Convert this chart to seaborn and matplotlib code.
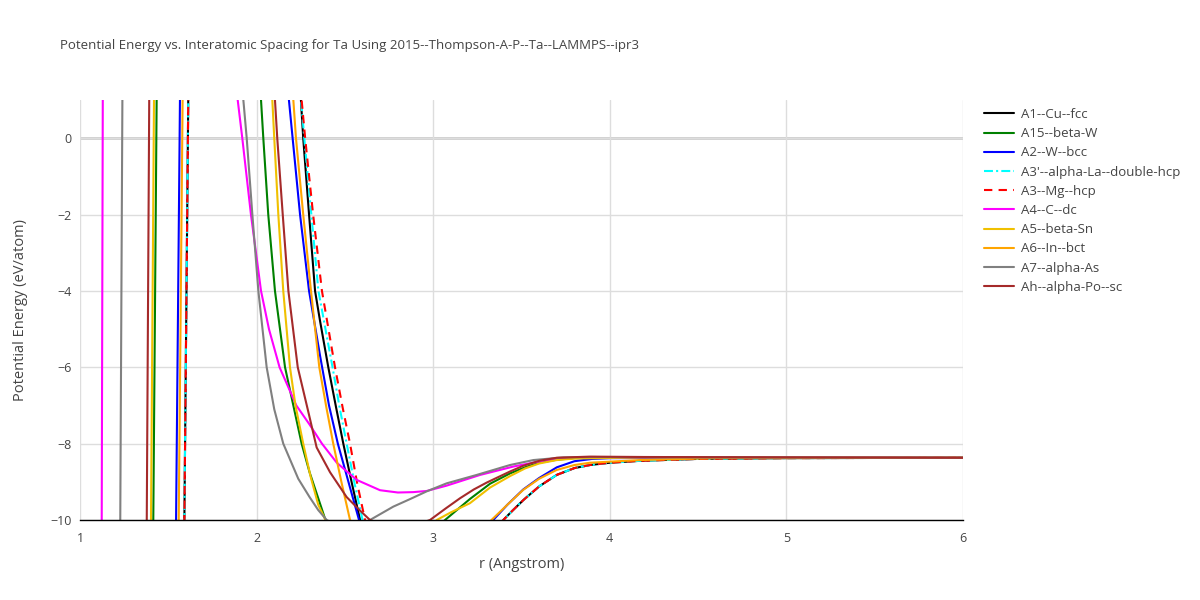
import numpy as np
import pandas as pd
import matplotlib
matplotlib.use("Agg")
import matplotlib.pyplot as plt
import seaborn as sns
from matplotlib.ticker import MultipleLocator, FuncFormatter

##############################################
### DATA ####
##############################################

title = "Potential Energy vs. Interatomic Spacing for Ta Using 2015--Thompson-A-P--Ta--LAMMPS--ipr3"

# A1--Cu--fcc
r_a1 = [1.580, 1.591, 1.613, 1.930, 2.251, 2.264, 2.297, 2.331, 2.359, 2.406, 2.450, 2.491, 2.540, 2.586, 3.000,
        3.397, 3.450, 3.510, 3.600, 3.699, 3.800, 3.888, 4.000, 4.171, 4.500, 5.000, 6.000]
e_a1 = [-12.0, -10.0, 1.0, 15.0, 1.0, 0.0, -2.0, -4.0, -4.78, -6.0, -7.05, -8.0, -9.05, -10.0, -12.0,
        -10.0, -9.75, -9.48, -9.12, -8.82, -8.64, -8.56, -8.50, -8.45, -8.40, -8.38, -8.37]

# A15--beta-W
r_a15 = [1.405, 1.415, 1.434, 1.730, 2.025, 2.038, 2.066, 2.104, 2.161, 2.208, 2.255, 2.300, 2.349, 2.390, 2.700,
         3.067, 3.208, 3.322, 3.435, 3.520, 3.600, 3.700, 3.800, 4.200, 6.000]
e_a15 = [-12.0, -10.0, 1.0, 15.0, 1.0, 0.0, -2.0, -4.0, -6.0, -7.0, -8.0, -8.75, -9.43, -10.0, -11.5,
         -10.0, -9.45, -9.05, -8.78, -8.62, -8.50, -8.42, -8.38, -8.36, -8.37]

# A2--W--bcc
r_a2 = [1.535, 1.544, 1.566, 1.880, 2.183, 2.204, 2.246, 2.297, 2.359, 2.410, 2.460, 2.520, 2.580, 2.950,
        3.340, 3.420, 3.510, 3.600, 3.700, 3.800, 3.900, 4.000, 4.500, 6.000]
e_a2 = [-12.0, -10.0, 1.0, 15.0, 1.0, 0.0, -2.0, -4.0, -5.69, -7.0, -8.0, -9.0, -10.0, -12.0,
        -10.0, -9.60, -9.20, -8.90, -8.62, -8.46, -8.40, -8.38, -8.37, -8.37]

# A3'--alpha-La--double-hcp
r_a3p = [1.580, 1.591, 1.613, 1.930, 2.252, 2.270, 2.310, 2.350, 2.430, 2.470, 2.510, 2.555, 2.600, 3.000,
         3.397, 3.450, 3.510, 3.600, 3.699, 3.800, 3.888, 4.000, 4.171, 4.500, 5.000, 6.000]
e_a3p = [-12.0, -10.0, 1.0, 15.0, 1.0, 0.0, -2.0, -4.0, -6.0, -7.05, -8.0, -9.05, -10.0, -12.0,
         -10.0, -9.75, -9.48, -9.12, -8.82, -8.64, -8.56, -8.50, -8.45, -8.40, -8.38, -8.37]

# A3--Mg--hcp
r_a3 = [1.580, 1.591, 1.613, 1.930, 2.255, 2.275, 2.320, 2.370, 2.444, 2.487, 2.529, 2.570, 2.614, 3.000,
        3.397, 3.450, 3.510, 3.600, 3.699, 3.800, 3.888, 4.000, 4.171, 4.500, 5.000, 6.000]
e_a3 = [-12.0, -10.0, 1.0, 15.0, 1.0, 0.0, -2.0, -4.0, -6.0, -7.05, -8.0, -9.05, -10.0, -12.0,
        -10.0, -9.75, -9.48, -9.12, -8.82, -8.64, -8.56, -8.50, -8.45, -8.40, -8.38, -8.37]

# A4--C--dc
r_a4 = [1.118, 1.123, 1.129, 1.500, 1.893, 1.919, 1.968, 2.025, 2.070, 2.130, 2.225, 2.300, 2.370, 2.454, 2.567,
        2.699, 2.800, 2.887, 2.963, 3.076, 3.265, 3.454, 3.643, 3.800, 4.200, 6.000]
e_a4 = [-12.0, -10.0, 1.0, 15.0, 1.0, 0.0, -2.0, -4.0, -5.0, -6.0, -7.0, -7.5, -8.0, -8.5, -8.95,
        -9.22, -9.28, -9.27, -9.24, -9.10, -8.82, -8.60, -8.43, -8.37, -8.36, -8.37]

# A5--beta-Sn
r_a5 = [1.392, 1.402, 1.419, 1.750, 2.089, 2.100, 2.123, 2.151, 2.189, 2.220, 2.264, 2.305, 2.349, 2.390, 2.700,
        3.020, 3.100, 3.208, 3.322, 3.435, 3.520, 3.600, 3.700, 3.800, 4.200, 6.000]
e_a5 = [-12.0, -10.0, 1.0, 15.0, 1.0, 0.0, -2.0, -4.0, -6.0, -7.0, -8.0, -8.85, -9.60, -10.0, -11.5,
        -10.0, -9.80, -9.56, -9.15, -8.85, -8.65, -8.52, -8.43, -8.39, -8.36, -8.37]

# A6--In--bct
r_a6 = [1.550, 1.559, 1.581, 1.900, 2.208, 2.223, 2.264, 2.308, 2.355, 2.395, 2.434, 2.480, 2.529, 2.930,
        3.330, 3.420, 3.510, 3.600, 3.699, 3.800, 3.888, 4.171, 4.600, 6.000]
e_a6 = [-12.0, -10.0, 1.0, 15.0, 1.0, 0.0, -2.0, -4.0, -6.0, -7.05, -8.0, -9.0, -10.0, -12.0,
        -10.0, -9.60, -9.21, -8.92, -8.69, -8.56, -8.50, -8.43, -8.38, -8.37]

# A7--alpha-As
r_a7 = [1.222, 1.228, 1.240, 1.580, 1.925, 1.944, 1.976, 2.010, 2.057, 2.100, 2.151, 2.236, 2.300, 2.349, 2.397,
        2.520, 2.642, 2.774, 2.870, 2.963, 3.076, 3.246, 3.435, 3.567, 3.737, 3.900, 4.300, 6.000]
e_a7 = [-12.0, -10.0, 1.0, 15.0, 1.0, 0.0, -2.0, -4.0, -6.0, -7.1, -8.0, -8.92, -9.40, -9.74, -10.0,
        -10.3, -10.0, -9.65, -9.45, -9.25, -9.04, -8.82, -8.56, -8.43, -8.36, -8.35, -8.36, -8.37]

# Ah--alpha-Po--sc
r_ah = [1.370, 1.378, 1.392, 1.750, 2.104, 2.117, 2.148, 2.180, 2.233, 2.293, 2.340, 2.416, 2.510, 2.585, 2.642,
        2.800, 2.982, 3.070, 3.152, 3.230, 3.303, 3.435, 3.510, 3.600, 3.699, 3.888, 4.200, 6.000]
e_ah = [-12.0, -10.0, 1.0, 15.0, 1.0, 0.0, -2.0, -4.0, -6.0, -7.17, -8.1, -8.75, -9.40, -9.75, -10.0,
        -10.3, -10.0, -9.70, -9.43, -9.20, -9.02, -8.73, -8.58, -8.45, -8.37, -8.34, -8.35, -8.37]

labels = ["A1--Cu--fcc", "A15--beta-W", "A2--W--bcc", "A3'--alpha-La--double-hcp", "A3--Mg--hcp",
          "A4--C--dc", "A5--beta-Sn", "A6--In--bct", "A7--alpha-As", "Ah--alpha-Po--sc"]
r_all = [r_a1, r_a15, r_a2, r_a3p, r_a3, r_a4, r_a5, r_a6, r_a7, r_ah]
e_all = [e_a1, e_a15, e_a2, e_a3p, e_a3, e_a4, e_a5, e_a6, e_a7, e_ah]

##############################################
### STYLE ####################################
##############################################

colors = ["black", "green", "blue", "cyan", "red", "magenta", "#f0c000", "orange", "gray", "brown"]
styles = ["-", "-", "-", (0, (4.3, 1.5, 1, 1.5)), (0, (4, 3)), "-", "-", "-", "-", "-"]
text_col = "#444444"

sns.set_style("white")
plt.rcParams['font.family'] = ['Open Sans', 'DejaVu Sans']

fig = plt.figure(figsize=(12, 6), dpi=100)
ax = fig.add_axes([80 / 1200, 80 / 600, 883 / 1200, 420 / 600])

for lab, r, e, c, ls in zip(labels, r_all, e_all, colors, styles):
    df = pd.DataFrame({"r": r, "E": e})
    sns.lineplot(data=df, x="r", y="E", ax=ax, sort=False, estimator=None,
                 color=c, linestyle=ls, linewidth=1.5, label=lab)

ax.set_xlim(1, 6)
ax.set_ylim(-10, 1)

# grid like plotly
ax.xaxis.set_major_locator(MultipleLocator(1))
ax.xaxis.set_minor_locator(MultipleLocator(0.2))
ax.set_yticks([0, -2, -4, -6, -8, -10])
ax.grid(True, which="major", color="#dddddd", linewidth=1)
ax.axhline(0, color="#cccccc", linewidth=2, zorder=0.5)
ax.set_axisbelow(True)

for s in ["top", "right", "left"]:
    ax.spines[s].set_visible(False)
ax.spines["bottom"].set_color("black")
ax.spines["bottom"].set_linewidth(1)

ax.tick_params(axis="x", which="both", direction="out", length=5, width=1, color="#444444",
               labelsize=9, labelcolor=text_col, pad=4)
ax.tick_params(axis="y", which="both", length=0, labelsize=9, labelcolor=text_col, pad=6)
ax.yaxis.set_major_formatter(FuncFormatter(lambda v, p: f"{int(v)}".replace("-", "\u2212")))

ax.set_xlabel("r (Angstrom)", fontsize=10.5, color=text_col, labelpad=8)
ax.set_ylabel("Potential Energy (eV/atom)", fontsize=10.5, color=text_col, labelpad=16)

fig.text(60 / 1200, 1 - 45 / 600, title, fontsize=9.5, color=text_col, va="center", ha="left")

handles, labs = ax.get_legend_handles_labels()
ax.get_legend().remove()
fig.legend(handles, labs, loc="upper left", bbox_to_anchor=(984 / 1200, 1 - 108 / 600),
           frameon=False, fontsize=9.5, borderaxespad=0, borderpad=0, handlelength=2.3,
           handletextpad=0.5, labelspacing=0.47, labelcolor=text_col)

fig.savefig("out.png", dpi=100)
